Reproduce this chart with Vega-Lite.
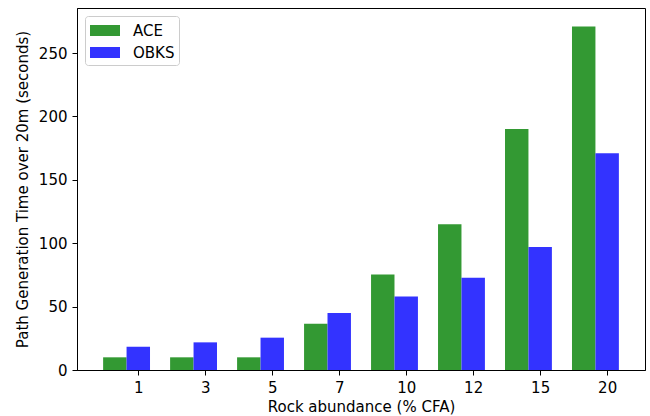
{
  "$schema": "https://vega.github.io/schema/vega-lite/v6.json",
  "width": 568,
  "height": 362,
  "autosize": {"type": "none"},
  "padding": {"left": 77, "top": 8, "right": 5, "bottom": 46},
  "background": "white",
  "config": {
    "font": "DejaVu Sans",
    "view": {"stroke": "#000", "strokeWidth": 1},
    "axis": {
      "domainColor": "#000",
      "tickColor": "#000",
      "labelColor": "#000",
      "titleColor": "#000",
      "labelFontSize": 15,
      "titleFontSize": 15,
      "titleFontWeight": "normal",
      "tickSize": 5,
      "grid": false
    }
  },
  "data": {
    "values": [
      {"abundance": 1, "series": "ACE", "time": 10},
      {"abundance": 1, "series": "OBKS", "time": 18.4},
      {"abundance": 3, "series": "ACE", "time": 10},
      {"abundance": 3, "series": "OBKS", "time": 21.8},
      {"abundance": 5, "series": "ACE", "time": 10},
      {"abundance": 5, "series": "OBKS", "time": 25.5},
      {"abundance": 7, "series": "ACE", "time": 36.5},
      {"abundance": 7, "series": "OBKS", "time": 45},
      {"abundance": 10, "series": "ACE", "time": 75.4},
      {"abundance": 10, "series": "OBKS", "time": 58},
      {"abundance": 12, "series": "ACE", "time": 115},
      {"abundance": 12, "series": "OBKS", "time": 72.8},
      {"abundance": 15, "series": "ACE", "time": 190},
      {"abundance": 15, "series": "OBKS", "time": 97},
      {"abundance": 20, "series": "ACE", "time": 271},
      {"abundance": 20, "series": "OBKS", "time": 171}
    ]
  },
  "mark": {"type": "bar"},
  "encoding": {
    "x": {
      "field": "abundance",
      "type": "ordinal",
      "sort": [1, 3, 5, 7, 10, 12, 15, 20],
      "scale": {"paddingInner": 0.3, "paddingOuter": 0.39},
      "axis": {
        "title": "Rock abundance (% CFA)",
        "labelAngle": 0,
        "tickOffset": 11.7,
        "labelPadding": 5,
        "titlePadding": 4
      }
    },
    "xOffset": {
      "field": "series",
      "type": "nominal",
      "scale": {"domain": ["ACE", "OBKS"], "paddingInner": 0, "paddingOuter": 0}
    },
    "y": {
      "field": "time",
      "type": "quantitative",
      "scale": {"domain": [0, 285.5], "nice": false},
      "axis": {
        "title": "Path Generation Time over 20m (seconds)",
        "values": [0, 50, 100, 150, 200, 250],
        "labelPadding": 5,
        "titlePadding": 8
      }
    },
    "color": {
      "field": "series",
      "type": "nominal",
      "scale": {"domain": ["ACE", "OBKS"], "range": ["#339933", "#3333ff"]},
      "legend": {
        "title": null,
        "orient": "none",
        "legendX": 8,
        "legendY": 8,
        "symbolType": "M-1.43,-0.524H1.43V0.524H-1.43Z",
        "symbolSize": 441,
        "symbolOffset": 5.5,
        "symbolStrokeWidth": 0,
        "labelFontSize": 15,
        "labelColor": "#000",
        "labelOffset": 17.5,
        "rowPadding": 3,
        "padding": 4,
        "strokeColor": "#cccccc",
        "fillColor": "white",
        "cornerRadius": 3
      }
    }
  }
}
